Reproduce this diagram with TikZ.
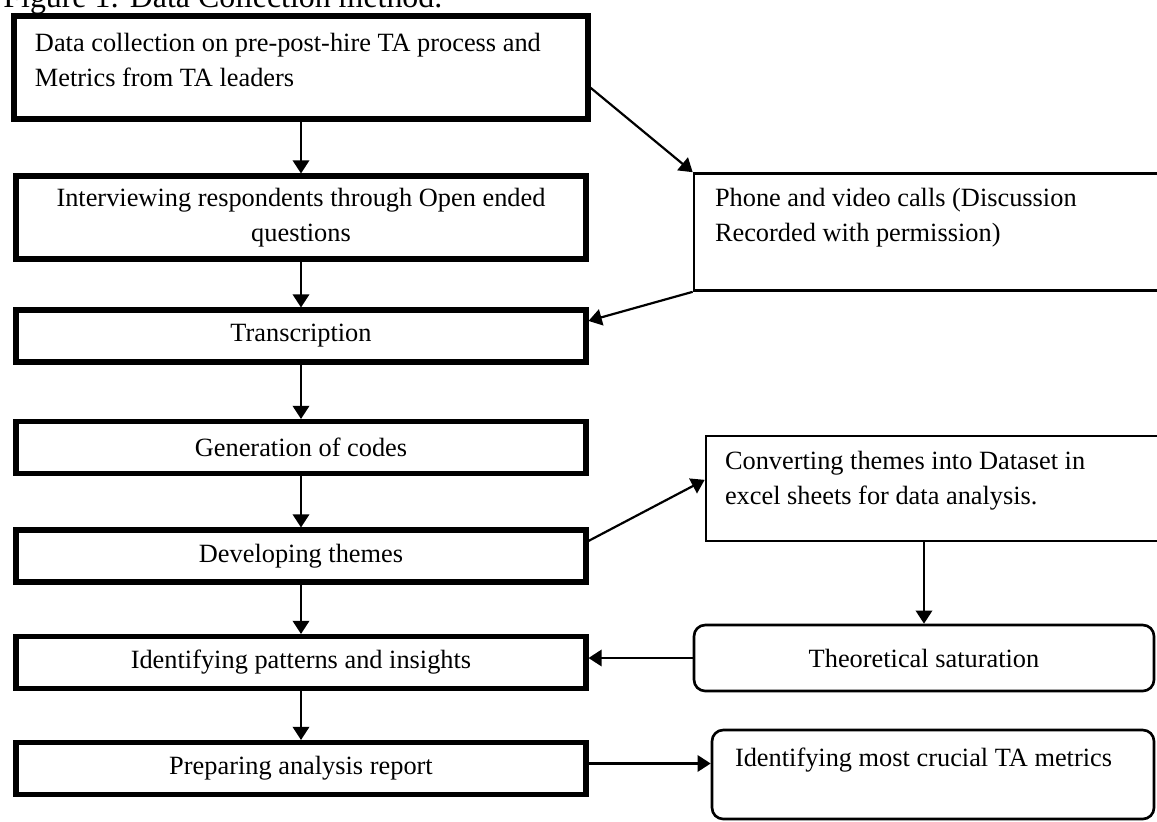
\documentclass[tikz,border=0pt]{standalone}
\usepackage{fontspec}
\setmainfont{Liberation Serif}
\usetikzlibrary{arrows.meta}

\begin{document}
\begin{tikzpicture}[
  every node/.style={font=\fontsize{12pt}{15.9pt}\selectfont},
  mainbox/.style={draw, line width=2.3pt, minimum width=9.12cm, minimum height=0.832cm, align=center},
  sidebox/.style={draw, line width=1.2pt, inner ysep=0pt, align=flush left},
  roundbox/.style={sidebox, rounded corners=0.18cm},
  arr/.style={-{Triangle[length=6pt,width=7.5pt]}, line width=1pt}
]
  \useasboundingbox (0,0) rectangle (18.512,-13.136);
  \clip (0,0) rectangle (18.512,-13.136);

  % caption (cut by the page top)
  \node[anchor=base west, inner sep=0pt, font=\fontsize{14.5pt}{17pt}\selectfont] (cap) at (0.048,-0.112) {Figure 1: Data Collection method.};

  % main column
  \node[mainbox, minimum width=9.184cm, minimum height=1.648cm, align=flush left, inner ysep=0pt,
        inner xsep=0.336cm, text width=8.512cm, text depth=0.816cm] (collect) at (4.816,-1.08) {
    Data collection on pre-post-hire TA process and\\
    Metrics from TA leaders};
  \node[mainbox, minimum height=1.328cm] (interview) at (4.816,-3.48) {
    Interviewing respondents through Open ended\\
    questions};
  \node[mainbox] (transcr) at (4.816,-5.376) {Transcription};
  \node[mainbox] (codes) at (4.816,-7.16) {Generation of codes};
  \node[mainbox] (themes) at (4.816,-8.896) {Developing themes};
  \node[mainbox] (patterns) at (4.816,-10.6) {Identifying patterns and insights};
  \node[mainbox] (report) at (4.816,-12.296) {Preparing analysis report};

  % side boxes
  \node[sidebox, minimum width=8.096cm, minimum height=1.872cm, inner xsep=0.336cm,
        text width=7.424cm, text depth=1.12cm] (calls) at (15.152,-3.712) {
    Phone and video calls (Discussion\\
    Recorded with permission)};
  \node[sidebox, minimum width=7.904cm, minimum height=1.68cm, inner xsep=0.304cm,
        text width=7.296cm, text depth=0.912cm] (dataset) at (15.248,-7.816) {
    Converting themes into Dataset in\\
    excel sheets for data analysis.};
  \node[roundbox, align=center, minimum width=7.36cm, minimum height=1.056cm] (saturation) at (14.784,-10.528) {Theoretical saturation};
  \node[roundbox, minimum width=7.072cm, minimum height=1.424cm, inner xsep=0.368cm,
        text width=6.336cm, text depth=0.56cm] (metrics) at (14.928,-12.392) {Identifying most crucial TA metrics};

  % arrows
  \draw[arr] (collect) -- (interview);
  \draw[arr] (interview) -- (transcr);
  \draw[arr] (transcr) -- (codes);
  \draw[arr] (codes) -- (themes);
  \draw[arr] (themes) -- (patterns);
  \draw[arr] (patterns) -- (report);
  \draw[arr] (collect.-4) -- (calls.north west);
  \draw[arr] (calls.south west) -- (transcr.3);
  \draw[arr] (themes.3) -- (dataset.178);
  \draw[arr] (dataset.south -| saturation.north) -- (saturation.north);
  \draw[arr] (saturation.west) -- (saturation.west -| patterns.east);
  \draw[arr] (report.1) -- (report.1 -| metrics.west);
\end{tikzpicture}
\end{document}
